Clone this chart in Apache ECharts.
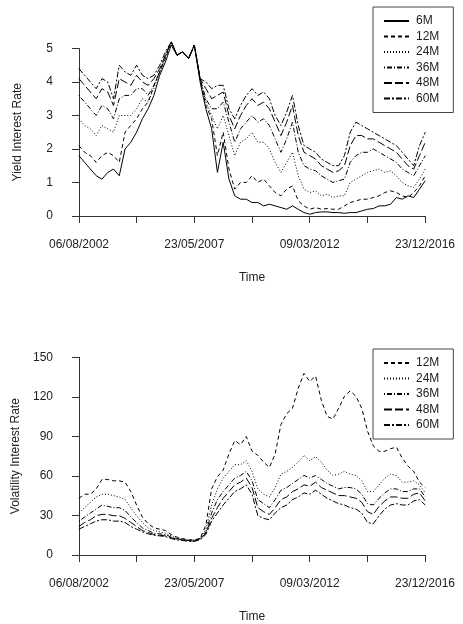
<!DOCTYPE html>
<html><head><meta charset="utf-8">
<script src="https://cdn.jsdelivr.net/npm/echarts@6/dist/echarts.min.js"></script>
<style>html,body{margin:0;padding:0;background:#fff}#c{width:463px;height:624px}</style>
</head><body><div id="c"></div>
<script>
// time positions: axis units where one tick = ~875 days, step 0.1 per sample
const tickLabels = {0:'06/08/2002',2:'23/05/2007',4:'09/03/2012',6:'23/12/2016'};
const yieldNames = ['6M','12M','24M','36M','48M','60M'];
const y6M = [1.8,1.6,1.4,1.2,1.1,1.3,1.4,1.2,2.0,2.2,2.5,2.9,3.2,3.6,4.2,4.6,5.1,4.8,4.9,4.7,5.1,4.0,3.2,2.6,1.3,2.2,1.1,0.6,0.5,0.5,0.4,0.4,0.3,0.35,0.3,0.25,0.2,0.3,0.2,0.1,0.05,0.1,0.12,0.12,0.1,0.1,0.08,0.1,0.1,0.15,0.2,0.22,0.3,0.3,0.35,0.55,0.5,0.6,0.55,0.8,1.05];
const y12M = [2.1,1.9,1.8,1.6,1.8,1.9,1.8,1.6,2.5,2.7,2.9,3.2,3.4,3.9,4.3,4.7,5.2,4.8,4.9,4.7,5.1,4.1,3.3,2.9,1.8,2.5,1.4,0.8,1.0,1.0,1.2,1.0,1.1,0.9,0.7,0.6,0.8,0.9,0.45,0.3,0.2,0.25,0.2,0.22,0.2,0.2,0.3,0.4,0.45,0.5,0.5,0.55,0.6,0.7,0.75,0.7,0.6,0.55,0.7,0.9,1.2];
const y24M = [2.9,2.7,2.6,2.4,2.7,2.6,2.5,3.0,3.0,3.0,3.2,3.5,3.4,3.8,4.3,4.7,5.2,4.8,4.9,4.7,5.1,4.1,3.4,3.0,2.6,3.0,2.4,1.8,2.2,2.3,2.5,2.2,2.2,2.0,1.6,1.3,1.6,1.9,1.2,0.8,0.7,0.75,0.6,0.65,0.55,0.6,0.6,1.0,1.1,1.2,1.3,1.35,1.4,1.3,1.35,1.2,1.0,0.9,0.85,1.1,1.4];
const y36M = [3.6,3.4,3.2,3.0,3.3,3.2,2.9,3.5,3.6,3.6,3.8,3.8,3.6,3.9,4.3,4.8,5.2,4.8,4.9,4.7,5.1,4.1,3.5,3.2,3.2,3.4,2.8,2.2,2.6,2.8,3.0,2.8,2.9,2.7,2.3,1.9,2.3,2.8,1.9,1.5,1.4,1.35,1.2,1.1,1.0,1.05,1.1,1.6,1.8,1.9,1.9,2.0,1.9,1.8,1.7,1.6,1.4,1.3,1.2,1.5,1.8];
const y48M = [4.1,3.9,3.7,3.5,3.8,3.7,3.3,4.1,4.0,3.9,4.2,4.0,3.9,4.1,4.4,4.8,5.2,4.8,4.9,4.7,5.1,4.1,3.8,3.5,3.6,3.7,3.0,2.6,3.0,3.3,3.5,3.3,3.4,3.2,2.8,2.4,2.8,3.3,2.4,1.9,1.8,1.7,1.5,1.4,1.3,1.35,1.5,2.1,2.4,2.4,2.3,2.3,2.2,2.1,2.0,1.9,1.7,1.5,1.4,1.8,2.2];
const y60M = [4.4,4.2,4.0,3.8,4.1,4.0,3.5,4.5,4.3,4.2,4.5,4.2,4.1,4.2,4.5,4.9,5.2,4.8,4.9,4.7,5.1,4.1,4.0,3.8,3.9,3.9,3.2,2.9,3.3,3.6,3.8,3.6,3.7,3.5,3.0,2.7,3.1,3.6,2.7,2.1,2.0,1.9,1.7,1.6,1.5,1.5,1.8,2.5,2.8,2.7,2.6,2.5,2.4,2.3,2.2,2.1,1.9,1.7,1.5,2.1,2.5];
const volNames = ['12M','24M','36M','48M','60M'];
const v12M = [45,48,48,52,59,59,58,58,57,50,40,31,26,23,22,21,18,16,15,14,14,15,25,52,61,66,78,88,85,91,80,77,72,68,78,100,108,112,127,138,132,136,118,106,104,112,121,125,121,112,95,84,80,80,82,83,75,69,65,57,53];
const v24M = [34,38,42,46,48,48,47,46,44,38,32,27,23,21,20,19,17,15,14.5,14,14,15,22,40,52,60,65,70,70,73,65,52,48,46,53,63,65,68,72,77,73,76,72,66,62,63,65,63,62,58,50,50,55,60,63,62,57,57,58,55,49];
const v36M = [28,31,34,37,40,39,38,38,36,31,27,23,21,19,18.5,18,16,15,14,13.5,13.5,15,20,34,44,50,55,60,62,65,58,44,41,38,44,51,53,56,59,62,60,62,59,56,54,52,53,53,52,48,41,40,45,49,52,52,50,50,52,52,46];
const v48M = [24,27,29,32,33,33,32,32,30,27,24,21,19.5,18,17.5,17,15.5,14.5,14,13.5,13,14.5,19,30,38,45,50,55,57,60,53,38,35,33,38,44,46,50,52,55,54,57,53,51,49,47,47,46,45,42,35,33,39,43,46,46,45,45,48,49,43];
const v60M = [22,24,26,28,29,29,28,28,27,24,22,20,18.5,17.5,17,16.5,15,14,13.5,13,13,14,18,28,34,40,45,50,52,55,48,32,30,29,34,38,40,44,46,49,48,51,48,45,43,41,40,38,37,34,27,26,32,37,40,41,40,40,43,44,40];

const dashes = {'6M':'solid','12M':[4,3],'24M':[1,2],'36M':[1,2,5,2],'48M':[8,3],'60M':[6,2,2,2]};
const F = 'Liberation Sans, Arial, sans-serif';
const txt = '#222';
function pts(arr){ return arr.map((v,i)=>[i*0.1, v]); }

const yieldData = [y6M,y12M,y24M,y36M,y48M,y60M];
const volData = [v12M,v24M,v36M,v48M,v60M];

function axisX(gi, offset){
  return {gridIndex:gi, type:'value', min:0, max:6, interval:1, offset:offset,
    name:'Time', nameLocation:'middle', nameGap:48, nameTextStyle:{fontFamily:F,fontSize:12,color:txt},
    axisLine:{show:true,lineStyle:{color:'#333',width:1}},
    axisTick:{show:true,length:7,lineStyle:{color:'#333'}},
    axisLabel:{margin:15,fontFamily:F,fontSize:12,color:txt,formatter:v=>tickLabels[v]||''},
    splitLine:{show:false}};
}
function axisY(gi, max, interval, name){
  return {gridIndex:gi, type:'value', min:0, max:max, interval:interval, offset:14,
    name:name, nameLocation:'middle', nameGap:41, nameTextStyle:{fontFamily:F,fontSize:12,color:txt},
    axisLine:{show:true,lineStyle:{color:'#333',width:1}},
    axisTick:{show:true,length:7,lineStyle:{color:'#333'}},
    axisLabel:{margin:12,fontFamily:F,fontSize:12,color:txt},
    splitLine:{show:false}};
}
function hid(gi,min,max){return {gridIndex:gi,type:'value',min:min,max:max,show:false,splitLine:{show:false}};}

const series = [];
yieldNames.forEach((n,k)=>series.push({name:n,type:'line',xAxisIndex:2,yAxisIndex:2,data:pts(yieldData[k]),
  symbol:'none',lineStyle:{color:'#000',width:1,type:dashes[n]},itemStyle:{color:'#000'},animation:false}));
volNames.forEach((n,k)=>series.push({name:'v'+n,type:'line',xAxisIndex:3,yAxisIndex:3,data:pts(volData[k]),
  symbol:'none',lineStyle:{color:'#000',width:1,type:dashes[n]},itemStyle:{color:'#000'},animation:false}));

const legBase = {orient:'vertical',itemWidth:25,itemHeight:10,itemGap:3.5,padding:[8,14,8,10],
  borderColor:'#444',borderWidth:1,backgroundColor:'#fff',itemStyle:{opacity:0},
  textStyle:{fontFamily:F,fontSize:12,color:txt,padding:[0,0,0,2]}};

const chart = echarts.init(document.getElementById('c'));
chart.setOption({
  animation:false,
  grid:[
    {left:79, width:346, top:48.5, height:167.5},
    {left:79, width:346, top:357.3, height:201.4},
    {left:65, width:377, top:31.75, height:191.55},
    {left:65, width:377, top:357.3, height:209.4}
  ],
  xAxis:[axisX(0,7.3), axisX(1,8), hid(2,-0.24,6.29), hid(3,-0.24,6.29)],
  yAxis:[axisY(0,5,1,'Yield Interest Rate'), axisY(1,150,30,'Volatility Interest Rate'), hid(2,-0.22,5.5), hid(3,-5.96,150)],
  legend:[
    Object.assign({},legBase,{left:373,top:7,data:yieldNames}),
    Object.assign({},legBase,{left:373,top:349,data:volNames.map(n=>'v'+n),formatter:n=>n.slice(1)})
  ],
  series:series
});
</script></body></html>
